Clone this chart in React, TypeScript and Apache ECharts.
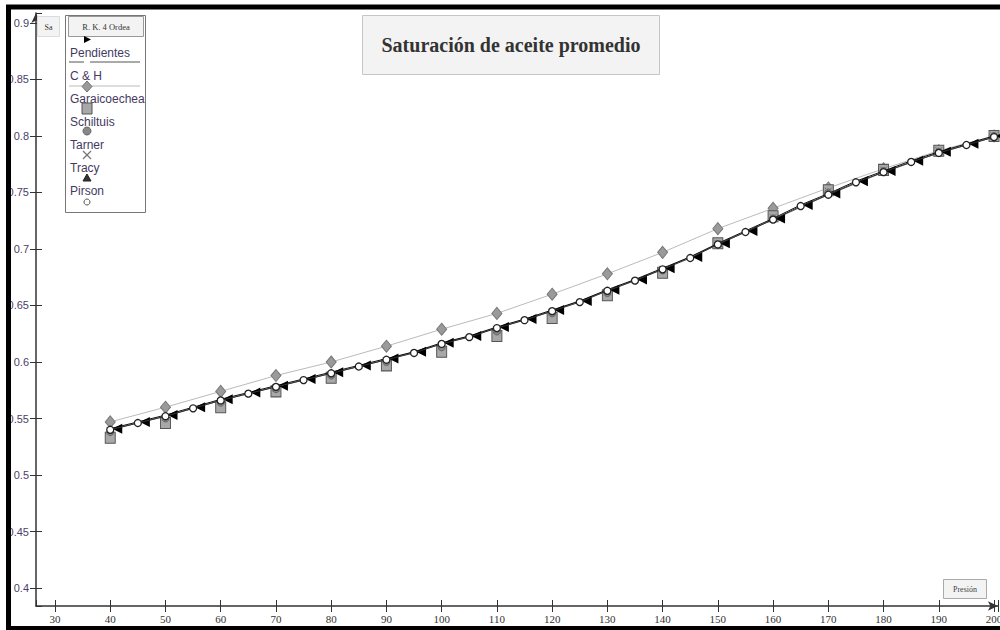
import React, { useEffect, useRef } from "react";
import * as echarts from "echarts";

const xMain: number[] = [40, 45, 50, 55, 60, 65, 70, 75, 80, 85, 90, 95, 100, 105, 110, 115, 120, 125, 130, 135, 140, 145, 150, 155, 160, 165, 170, 175, 180, 185, 190, 195, 200];
const pirson: number[] = [0.540, 0.546, 0.552, 0.559, 0.566, 0.572, 0.578, 0.584, 0.590, 0.596, 0.602, 0.608, 0.616, 0.622, 0.630, 0.637, 0.645, 0.653, 0.663, 0.672, 0.682, 0.692, 0.704, 0.715, 0.726, 0.738, 0.748, 0.759, 0.768, 0.777, 0.785, 0.792, 0.799];
const rk4: number[] = [0.541, 0.547, 0.553, 0.560, 0.567, 0.573, 0.579, 0.585, 0.591, 0.597, 0.603, 0.609, 0.617, 0.623, 0.631, 0.638, 0.646, 0.654, 0.664, 0.673, 0.683, 0.693, 0.705, 0.716, 0.727, 0.739, 0.749, 0.760, 0.769, 0.778, 0.786, 0.793, 0.800];

const xTen: number[] = [40, 50, 60, 70, 80, 90, 100, 110, 120, 130, 140, 150, 160, 170, 180, 190, 200];
const pendientes: number[] = [0.540, 0.552, 0.566, 0.578, 0.590, 0.602, 0.616, 0.630, 0.645, 0.663, 0.682, 0.704, 0.726, 0.748, 0.768, 0.785, 0.799];
const cyh: number[] = [0.547, 0.560, 0.574, 0.588, 0.600, 0.614, 0.629, 0.643, 0.660, 0.678, 0.697, 0.718, 0.736, 0.754, 0.771, 0.787, 0.800];
const garaicoechea: number[] = [0.533, 0.546, 0.560, 0.574, 0.586, 0.597, 0.609, 0.623, 0.639, 0.659, 0.679, 0.705, 0.729, 0.752, 0.770, 0.787, 0.800];
const schiltuis: number[] = [0.538, 0.550, 0.564, 0.576, 0.588, 0.600, 0.613, 0.627, 0.643, 0.661, 0.681, 0.704, 0.727, 0.750, 0.769, 0.786, 0.800];
const tarner: number[] = [0.539, 0.551, 0.565, 0.577, 0.589, 0.601, 0.614, 0.628, 0.644, 0.662, 0.682, 0.705, 0.728, 0.751, 0.770, 0.787, 0.800];
const tracy: number[] = [0.540, 0.552, 0.566, 0.578, 0.590, 0.602, 0.616, 0.630, 0.645, 0.663, 0.682, 0.705, 0.731, 0.754, 0.770, 0.787, 0.800];

const legendNames: string[] = ["Pendientes", "C & H", "Garaicoechea", "Schiltuis", "Tarner", "Tracy", "Pirson"];
const titleText = "Saturación de aceite promedio";
const yAxisName = "Sa";
const xAxisName = "Presión";
const rkName = "R. K. 4 Ordea";

const X_MIN = 26.56;
const X_MAX = 200.7;
const Y_MIN = 0.3841;
const Y_MAX = 0.9088;

const pair = (xs: number[], ys: number[]) => xs.map((x, i) => [x, ys[i]]);

const LEFT_TRI = "path://M0,5 L10,0 L10,10 Z";

export default function App() {
  const ref = useRef<HTMLDivElement>(null);
  useEffect(() => {
    if (!ref.current) return;
    const chart = echarts.init(ref.current, null, { renderer: "svg" });
    const legendColor = "#45395f";
    const legendFont = "12px 'Liberation Sans', Arial, sans-serif";
    const itemYs = [53, 76, 99, 122, 145, 168, 191];
    const markerX = 87;

    const graphic: any[] = [
      { type: "rect", shape: { x: 8.5, y: 7, width: 1000, height: 621.5 }, style: { fill: "none", stroke: "#000", lineWidth: 5 }, silent: true, z: 100 },
      { type: "rect", shape: { x: 362.5, y: 15.5, width: 297, height: 59 }, style: { fill: "#f3f3f3", stroke: "#c6c6c6", lineWidth: 1 }, z: 50 },
      { type: "text", x: 511, y: 45, style: { text: titleText, font: "bold 20px 'Liberation Serif', 'Times New Roman', serif", fill: "#333", align: "center", verticalAlign: "middle" }, z: 51 },
      { type: "rect", shape: { x: 37.5, y: 16.5, width: 22, height: 20 }, style: { fill: "#f3f3f3", stroke: "#dcdcdc", lineWidth: 1 }, z: 50 },
      { type: "text", x: 48.5, y: 27, style: { text: yAxisName, font: "8px 'Liberation Serif', serif", fill: "#333", align: "center", verticalAlign: "middle" }, z: 51 },
      { type: "rect", shape: { x: 943.5, y: 579.5, width: 43, height: 19 }, style: { fill: "#f3f3f3", stroke: "#aaa", lineWidth: 1 }, z: 50 },
      { type: "text", x: 965, y: 589, style: { text: xAxisName, font: "8px 'Liberation Serif', serif", fill: "#444", align: "center", verticalAlign: "middle" }, z: 51 },
      { type: "rect", shape: { x: 65.5, y: 15.5, width: 80, height: 197 }, style: { fill: "#fff", stroke: "#777", lineWidth: 1 }, z: 50 },
      { type: "rect", shape: { x: 68.5, y: 16.5, width: 75, height: 20 }, style: { fill: "#f3f3f3", stroke: "#999", lineWidth: 1 }, z: 51 },
      { type: "text", x: 106, y: 26.5, style: { text: rkName, font: "8.5px 'Liberation Serif', serif", fill: "#333", align: "center", verticalAlign: "middle" }, z: 52 },
      { type: "polygon", shape: { points: [[84, 36], [91, 39.5], [84, 43]] }, style: { fill: "#000" }, z: 53 },
      { type: "line", shape: { x1: 69, y1: 62, x2: 84, y2: 62 }, style: { stroke: "#555", lineWidth: 1 }, z: 52 },
      { type: "line", shape: { x1: 90, y1: 62, x2: 140, y2: 62 }, style: { stroke: "#555", lineWidth: 1 }, z: 52 },
      { type: "line", shape: { x1: 69, y1: 86, x2: 140, y2: 86 }, style: { stroke: "#bbb", lineWidth: 1 }, z: 52 },
      { type: "polygon", shape: { points: [[markerX, 81], [markerX + 5, 86.5], [markerX, 92], [markerX - 5, 86.5]] }, style: { fill: "#9a9a9a", stroke: "#777", lineWidth: 1 }, z: 54 },
      { type: "rect", shape: { x: markerX - 5, y: 103, width: 10, height: 11 }, style: { fill: "#a8a8a8", stroke: "#555", lineWidth: 1 }, z: 54 },
      { type: "circle", shape: { cx: markerX, cy: 131, r: 4 }, style: { fill: "#888", stroke: "#666", lineWidth: 1 }, z: 54 },
      { type: "line", shape: { x1: markerX - 4, y1: 151, x2: markerX + 4, y2: 159 }, style: { stroke: "#777", lineWidth: 1.2 }, z: 54 },
      { type: "line", shape: { x1: markerX + 4, y1: 151, x2: markerX - 4, y2: 159 }, style: { stroke: "#777", lineWidth: 1.2 }, z: 54 },
      { type: "polygon", shape: { points: [[markerX, 174], [markerX + 4, 181], [markerX - 4, 181]] }, style: { fill: "#333", stroke: "#222", lineWidth: 1 }, z: 54 },
      { type: "circle", shape: { cx: markerX, cy: 202, r: 3 }, style: { fill: "#fff", stroke: "#555", lineWidth: 1 }, z: 54 },
    ];
    legendNames.forEach((n, i) => {
      graphic.push({ type: "text", x: 70, y: itemYs[i], style: { text: n, font: legendFont, fill: legendColor, verticalAlign: "middle" }, z: 53 });
    });

    const yFmt = (v: number) => {
      const k = v * 20;
      if (Math.abs(k - Math.round(k)) > 1e-6 || v < 0.399) return "";
      return String(parseFloat(v.toFixed(2)));
    };
    const xFmt = (v: number) => {
      if (Math.abs(v / 10 - Math.round(v / 10)) > 1e-6 || v < 29.9) return "";
      return String(Math.round(v));
    };

    const axisColor = "#333";
    chart.setOption({
      animation: false,
      backgroundColor: "#fff",
      grid: { left: 36, right: 2.1, top: 13, bottom: 24, containLabel: false, outerBoundsMode: "none" },
      xAxis: [
        {
          type: "value", min: X_MIN, max: X_MAX, splitNumber: 17,
          axisLine: { show: true, lineStyle: { color: axisColor, width: 1.5 }, symbol: ["none", "arrow"], symbolSize: [7, 10] },
          axisTick: { show: true, length: 6, lineStyle: { color: axisColor } },
          axisLabel: { formatter: xFmt, margin: 7, color: "#333", fontSize: 11, fontFamily: "'Liberation Serif', serif", showMinLabel: false, hideOverlap: false },
          splitLine: { show: false },
        },
        {
          type: "value", position: "bottom", min: X_MIN, max: X_MAX, splitNumber: 17,
          axisLine: { show: false }, axisLabel: { show: false },
          axisTick: { show: true, inside: true, length: 6, lineStyle: { color: axisColor } },
          splitLine: { show: false },
        },
      ],
      yAxis: [
        {
          type: "value", min: Y_MIN, max: Y_MAX, splitNumber: 10,
          axisLine: { show: true, lineStyle: { color: axisColor, width: 1.5 }, symbol: ["none", "arrow"], symbolSize: [7, 10] },
          axisTick: { show: true, length: 6, lineStyle: { color: axisColor } },
          axisLabel: { formatter: yFmt, margin: 7, color: "#4a3f6b", fontSize: 11, fontFamily: "'Liberation Sans Narrow', 'Liberation Sans', sans-serif", showMinLabel: false, showMaxLabel: false },
          splitLine: { show: false },
        },
        {
          type: "value", position: "left", min: Y_MIN, max: Y_MAX, splitNumber: 10,
          axisLine: { show: false }, axisLabel: { show: false },
          axisTick: { show: true, inside: true, length: 6, lineStyle: { color: axisColor } },
          splitLine: { show: false },
        },
      ],
      graphic,
      series: [
        { name: "C & H", type: "line", data: pair(xTen, cyh), symbol: "diamond", symbolSize: [10, 12], itemStyle: { color: "#9a9a9a", borderColor: "#777", borderWidth: 1 }, lineStyle: { color: "#bbb", width: 1 }, z: 2 },
        { name: "Pendientes", type: "line", data: pair(xTen, pendientes), showSymbol: false, symbol: "none", lineStyle: { color: "#555", width: 1 }, z: 2 },
        { name: "Tracy", type: "scatter", data: pair(xTen, tracy), symbol: "triangle", symbolSize: 6, itemStyle: { color: "#888", borderColor: "#555", borderWidth: 1, opacity: 1 }, z: 2 },
        { name: "Garaicoechea", type: "scatter", data: pair(xTen, garaicoechea), symbol: "rect", symbolSize: [10, 11], itemStyle: { color: "#a8a8a8", borderColor: "#555", borderWidth: 1, opacity: 1 }, z: 3 },
        { name: "Schiltuis", type: "scatter", data: pair(xTen, schiltuis), symbol: "circle", symbolSize: 7, itemStyle: { color: "#888", borderColor: "#666", borderWidth: 1, opacity: 1 }, z: 4 },
        { name: "Tarner", type: "scatter", data: pair(xTen, tarner), symbol: "path://M0,0 L10,10 M10,0 L0,10", symbolSize: 7, itemStyle: { color: "none", borderColor: "#777", borderWidth: 1, opacity: 1 }, z: 4 },
        { name: rkName, type: "line", data: pair(xMain, rk4), symbol: LEFT_TRI, symbolSize: [10, 10], symbolOffset: [7, 0], itemStyle: { color: "#000", borderWidth: 0 }, lineStyle: { color: "#111", width: 1 }, z: 5 },
        { name: "Pirson", type: "line", data: pair(xMain, pirson), symbol: "circle", symbolSize: 7, itemStyle: { color: "#fff", borderColor: "#222", borderWidth: 1.3 }, lineStyle: { color: "#333", width: 1 }, z: 6 },
      ],
    });
    return () => chart.dispose();
  }, []);
  return <div ref={ref} style={{ position: "absolute", left: 0, top: 0, width: 1000, height: 630 }} />;
}
